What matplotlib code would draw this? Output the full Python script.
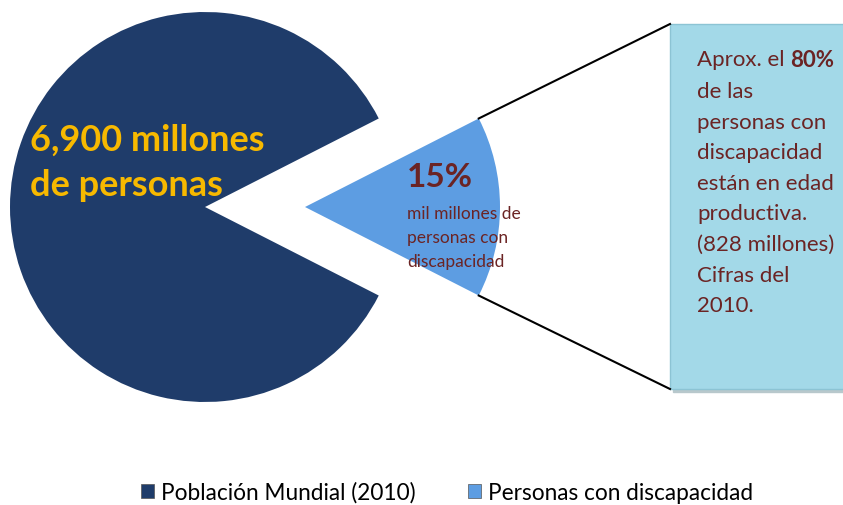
import numpy as np
import matplotlib.pyplot as plt
from matplotlib.patches import Rectangle, Patch

labels = ['Población Mundial (2010)', 'Personas con discapacidad']
shares = [85, 15]
colors = ['#1f3c6a', '#5d9de2']
big_label = '6,900 millones\nde personas'
pct_label = '15%'
small_label = 'mil millones de\npersonas con\ndiscapacidad'
box_lines = ['de las', 'personas con', 'discapacidad', 'están en edad',
             'productiva.', '(828 millones)', 'Cifras del', '2010.']

W, H = 843, 506
fig = plt.figure(figsize=(W / 100, H / 100), dpi=100)
ax = fig.add_axes([0, 0, 1, 1])

R = 195
cx, cy = 205, H - 208
half = shares[1] / 100 * 360 / 2
wedges, _ = ax.pie(shares, colors=colors, radius=R, center=(cx, cy),
                   startangle=half, explode=[0, 100], frame=True,
                   wedgeprops=dict(linewidth=0))
ax.set_xlim(0, W)
ax.set_ylim(0, H)
ax.set_aspect('equal')
ax.axis('off')

# box on the right
bx0, by0, by1 = 670, H - 390, H - 25
ax.add_patch(Rectangle((bx0 + 3, by0 - 3), W, by1 - by0, color='#b8c8cc', zorder=1))
ax.add_patch(Rectangle((bx0, by0), W, by1 - by0, facecolor='#a3d9e8',
                       edgecolor='#8cc4d4', linewidth=1, zorder=2))

# connector lines from the small slice to the box
sw = wedges[1]
scx, scy = sw.center
for ang, ty in [(sw.theta2, by1), (sw.theta1, by0)]:
    px = scx + R * np.cos(np.radians(ang))
    py = scy + R * np.sin(np.radians(ang))
    ax.plot([px, bx0], [py, ty], color='black', lw=1.5, zorder=3)

font = 'Lato'
red = '#6b2424'
ax.text(30, H - 124, big_label, color='#f7b900', fontsize=26, fontweight='bold',
        family=font, va='top', ha='left', linespacing=1.45, zorder=4)
ax.text(407, H - 163, pct_label, color=red, fontsize=24, fontweight='bold',
        family=font, va='top', ha='left', zorder=4)
ax.text(407, H - 206, small_label, color=red, fontsize=12.5,
        family=font, va='top', ha='left', linespacing=1.6, zorder=4)

t = ax.text(697, H - 60, 'Aprox. el ', color=red, fontsize=16, family=font,
            va='center', ha='left', zorder=4)
fig.canvas.draw()
bb = ax.transData.inverted().transform(t.get_window_extent())
ax.text(bb[1, 0], H - 60, '80%', color=red, fontsize=16, fontweight='bold', family=font,
        va='center', ha='left', zorder=4)
for i, line in enumerate(box_lines):
    ax.text(697, H - 92 - i * 30.6, line, color=red, fontsize=16, family=font,
            va='center', ha='left', zorder=4)

handles = [Patch(facecolor=c, edgecolor='#555555', linewidth=0.5) for c in colors]
fig.legend(handles, labels, loc='center', bbox_to_anchor=(0.53, 1 - 493 / H), ncol=2,
           frameon=False, prop={'family': font, 'size': 16.3}, handlelength=0.6,
           handleheight=0.6, handletextpad=0.3, columnspacing=2.3)

fig.savefig('out.png', dpi=100)
